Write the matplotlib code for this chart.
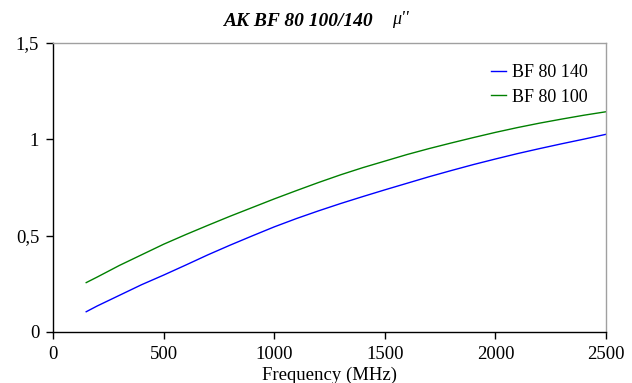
import matplotlib
matplotlib.use("Agg")
import matplotlib.pyplot as plt
from matplotlib.ticker import FixedLocator, FixedFormatter

# frequency in MHz
freq = [150, 200, 300, 400, 500, 600, 700, 800, 900, 1000, 1100, 1200, 1300,
        1400, 1500, 1600, 1700, 1800, 1900, 2000, 2100, 2200, 2300, 2400, 2500]
bf80_140 = [0.105, 0.135, 0.19, 0.245, 0.295, 0.347, 0.40, 0.45, 0.498, 0.545,
            0.588, 0.628, 0.666, 0.702, 0.737, 0.771, 0.805, 0.837, 0.868, 0.897,
            0.925, 0.951, 0.976, 1.00, 1.025]
bf80_100 = [0.256, 0.285, 0.345, 0.40, 0.455, 0.505, 0.553, 0.60, 0.645, 0.69,
            0.733, 0.775, 0.815, 0.852, 0.886, 0.92, 0.951, 0.98, 1.008, 1.035,
            1.06, 1.083, 1.104, 1.124, 1.142]

x_ticks = [0, 500, 1000, 1500, 2000, 2500]
y_ticks = [0, 0.5, 1, 1.5]
y_tick_labels = ["0", "0,5", "1", "1,5"]

plt.rcParams["font.family"] = ["Liberation Serif", "DejaVu Serif"]

fig = plt.figure(figsize=(6.32, 3.83), dpi=100)
ax = fig.add_axes([0.0839, 0.1332, 0.875, 0.7553])

ax.plot(freq, bf80_140, color="#0000FF", lw=1.0, label="BF 80 140")
ax.plot(freq, bf80_100, color="#008000", lw=1.0, label="BF 80 100")

ax.set_xlim(0, 2500)
ax.set_ylim(0, 1.5)
ax.xaxis.set_major_locator(FixedLocator(x_ticks))
ax.yaxis.set_major_locator(FixedLocator(y_ticks))
ax.yaxis.set_major_formatter(FixedFormatter(y_tick_labels))
ax.tick_params(axis="both", direction="out", length=5, width=1, labelsize=13.5,
               color="black")
ax.tick_params(axis="x", pad=5)
ax.tick_params(axis="y", pad=5)

for side in ("left", "bottom"):
    ax.spines[side].set_color("black")
    ax.spines[side].set_linewidth(1)
for side in ("top", "right"):
    ax.spines[side].set_color("#A0A0A0")
    ax.spines[side].set_linewidth(1)

ax.legend(loc="upper right", bbox_to_anchor=(0.967, 0.925), frameon=False,
          fontsize=13, handlelength=0.8, handletextpad=0.35, labelspacing=0.4,
          borderaxespad=0, borderpad=0)

fig.text(0.5214, 0.021, "Frequency (MHz)", ha="center", va="center",
         fontsize=13.5)
fig.text(0.472, 0.945, "AK BF 80 100/140", ha="center", va="center",
         fontsize=14, fontweight="bold", fontstyle="italic")
fig.text(0.62, 0.95, "\u03bc''", ha="left", va="center", fontsize=13,
         fontstyle="italic")

fig.savefig("out.png", dpi=100)
